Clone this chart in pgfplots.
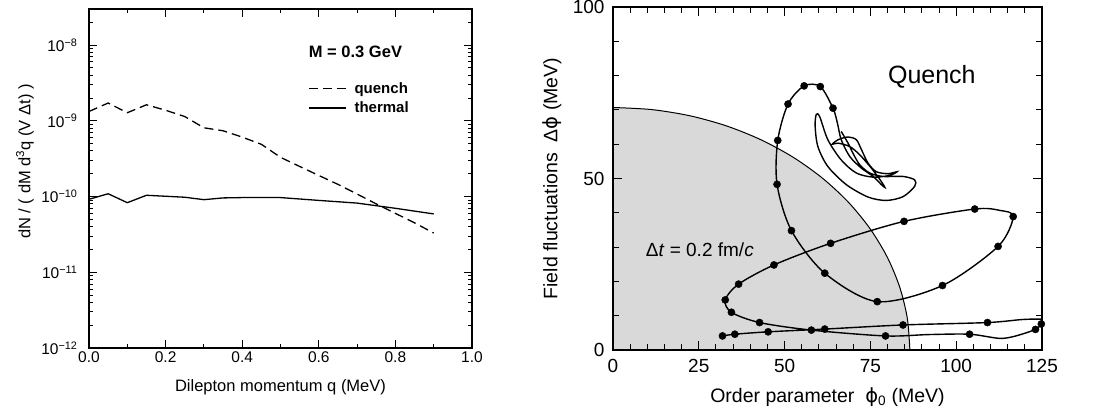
\documentclass[border=0pt]{standalone}
\usepackage{pgfplots}
\pgfplotsset{compat=1.18}
\usepackage{fontspec}
\setmainfont{Liberation Sans}
\newfontfamily\dejavu{DejaVu Sans}
\newcommand{\fs}[1]{\fontsize{#1}{#1}\selectfont}
\begin{document}
\begin{tikzpicture}
\useasboundingbox (0,0) rectangle (1096pt,415pt);
% ---------------- left panel ----------------
\begin{axis}[
  at={(89pt,67pt)}, anchor=south west,
  scale only axis, width=383pt, height=339pt,
  ymode=log, xmin=0, xmax=1, ymin=1e-12, ymax=3e-8,
  xtick={0,0.2,0.4,0.6,0.8,1}, xticklabels={0.0,0.2,0.4,0.6,0.8,1.0},
  minor x tick num=1,
  ytick={1e-12,1e-11,1e-10,1e-9,1e-8},
  yticklabels={10\textsuperscript{−12},10\textsuperscript{−11},10\textsuperscript{−10},10\textsuperscript{−9},10\textsuperscript{−8}},
  minor ytick={2e-12,3e-12,4e-12,5e-12,6e-12,7e-12,8e-12,9e-12,
    2e-11,3e-11,4e-11,5e-11,6e-11,7e-11,8e-11,9e-11,
    2e-10,3e-10,4e-10,5e-10,6e-10,7e-10,8e-10,9e-10,
    2e-9,3e-9,4e-9,5e-9,6e-9,7e-9,8e-9,9e-9,2e-8,3e-8},
  tick align=inside,
  major tick length=8pt, minor tick length=4pt,
  every tick/.style={black, line width=1pt},
  axis line style={line width=1.5pt},
  tick label style={font=\fs{15.5}},
  yticklabel style={xshift=-8pt},
  xlabel={Dilepton momentum q (MeV)},
  xlabel style={at={(axis description cs:0.5,-0.115)}, anchor=center, font=\fs{16.5}},
  ylabel={dN / ( dM d\textsuperscript{3}q (V Δt) )},
  ylabel style={at={(axis description cs:-0.167,0.55)}, anchor=center, font=\fs{16.5}},
  legend style={at={(axis description cs:0.572,0.79)}, anchor=north west,
    draw=none, fill=none, font=\bfseries\fs{15}, inner sep=0pt, row sep=3pt,
    column sep=6pt},
  legend cell align=left,
  legend image code/.code={\draw[#1] (0pt,0pt) -- (37pt,0pt);},
]
\addplot[black, line width=1.3pt, dash pattern=on 9pt off 5pt] coordinates {
 (0,1.33e-9) (0.05,1.72e-9) (0.1,1.28e-9) (0.15,1.63e-9) (0.2,1.38e-9)
 (0.25,1.14e-9) (0.3,8.1e-10) (0.35,7.4e-10) (0.4,6.1e-10) (0.45,4.9e-10)
 (0.5,3.3e-10) (0.55,2.5e-10) (0.6,1.9e-10) (0.65,1.45e-10) (0.7,1.08e-10)
 (0.75,8.0e-11) (0.8,6.0e-11) (0.85,4.5e-11) (0.9,3.3e-11)};
\addlegendentry{quench}
\addplot[black, line width=1.3pt] coordinates {
 (0,9.2e-11) (0.05,1.09e-10) (0.1,8.3e-11) (0.15,1.04e-10) (0.2,1.01e-10)
 (0.25,9.8e-11) (0.3,9.1e-11) (0.35,9.6e-11) (0.4,9.7e-11) (0.45,9.7e-11)
 (0.5,9.7e-11) (0.6,8.9e-11) (0.7,8.2e-11) (0.8,7.0e-11) (0.9,5.9e-11)};
\addlegendentry{thermal}
\node[anchor=west, font=\bfseries\fs{16.5}] at (axis description cs:0.565,0.873) {M = 0.3 GeV};
\end{axis}
% ---------------- right panel ----------------
\begin{axis}[
  at={(613pt,65pt)}, anchor=south west,
  scale only axis, width=429pt, height=343pt,
  xmin=0, xmax=125, ymin=0, ymax=100,
  xtick={0,25,50,75,100,125}, xticklabels={0,25,50,75,100,125},
  ytick={0,50,100}, yticklabels={0,50,100},
  minor x tick num=4, minor y tick num=4,
  tick align=inside,
  major tick length=9pt, minor tick length=6pt,
  every tick/.style={black, line width=1pt},
  axis line style={line width=1.5pt},
  axis on top, clip mode=individual,
  tick label style={font=\fs{19}},
  yticklabel style={xshift=-5pt},
  xticklabel style={yshift=-6pt},
  xlabel={Order parameter \ {\dejavu ϕ}\textsubscript{0} (MeV)},
  xlabel style={at={(axis description cs:0.5,-0.137)}, anchor=center, font=\fs{19.5}},
  ylabel={Field fluctuations \ Δ{\dejavu ϕ} (MeV)},
  ylabel style={at={(axis description cs:-0.142,0.5)}, anchor=center, font=\fs{19.5}},
]
\addplot[smooth, fill=black!15, draw=black, line width=1pt] coordinates {
 (0,70.7) (11.29,70.09) (22.39,68.29) (33.10,65.32) (43.25,61.23) (52.66,56.09)
 (61.16,49.99) (68.63,43.04) (74.91,35.35) (79.92,27.06) (83.55,18.30)
 (85.76,9.23) (86.5,0)} \closedcycle;
\addplot[smooth, black, line width=1.4pt] coordinates {
 (31.9,4.1) (35.5,4.6) (45.2,5.3) (61.7,6.1) (84.5,7.3) (109.1,8.0)
 (119.5,8.9) (125.6,8.9) (124.8,7.6) (123.1,6.0) (117,4.0) (112.5,3.4)
 (103.9,4.6) (92,4.5) (79.4,4.1) (57.8,5.8) (42.7,8.0) (34.5,11.0)
 (32.7,14.6) (36.6,19.2) (46.9,24.8) (63.4,31.1) (84.8,37.5) (105.4,41.1)
 (112.7,40.7) (116.6,38.9) (112.2,30.2) (96.0,18.8) (77.0,14.1) (61.7,22.4)
 (52.0,34.8) (47.8,48.3) (48.0,61.1) (51.0,71.7) (55.7,77.0) (60.4,76.8)
 (64.1,70.5) (65.4,66.1) (66.5,61.3) (69.0,56.4) (72.4,53.0) (75.8,50.6)
 (78.2,48.2) (79.2,47.4) (78.2,49.1) (75.3,53.0) (71.9,56.9) (69.0,59.3)
 (65.6,60.3) (63.9,60.0) (65.6,61.3) (68.5,62.1) (70.9,61.3) (72.4,58.4)
 (74.3,54.5) (76.7,52.0) (80.1,51.4) (82.8,52.0) (80.6,50.9) (75.8,50.4)
 (70.9,51.6) (66.5,55.4) (62.6,61.3) (60.2,68.1) (59.2,68.6) (58.9,65.2)
 (59.7,59.3) (62.6,53.5) (68.0,48.2) (74.3,44.6) (79.6,43.6) (84.5,44.7)
 (87.9,47.7) (87.9,49.6) (84.5,50.6) (78.7,50.6) (74.8,51.6) (71.9,54.0)
 (69.9,57.4) (68.5,60.3) (66.5,63.7)};
\addplot[only marks, mark=*, mark size=3.6pt, black] coordinates {
 (31.9,4.1) (35.5,4.6) (45.2,5.3) (61.7,6.1) (84.5,7.3) (109.1,8.0)
 (124.8,7.6) (123.1,6.0) (103.9,4.6) (79.4,4.1) (57.8,5.8) (42.7,8.0)
 (34.5,11.0) (32.7,14.6) (36.6,19.2) (46.9,24.8) (63.4,31.1) (84.8,37.5)
 (105.4,41.1) (116.6,38.9) (112.2,30.2) (96.0,18.8) (77.0,14.1) (61.7,22.4)
 (52.0,34.8) (47.8,48.3) (48.0,61.1) (51.0,71.7) (55.7,77.0) (60.4,76.8)
 (64.1,70.5)};
\node[font=\fs{25}] at (axis cs:92.9,79.6) {Quench};
\node[font=\fs{19}] at (axis cs:25.3,29.2) {Δ\textit{t} = 0.2 fm/\textit{c}};
\end{axis}
\end{tikzpicture}
\end{document}
